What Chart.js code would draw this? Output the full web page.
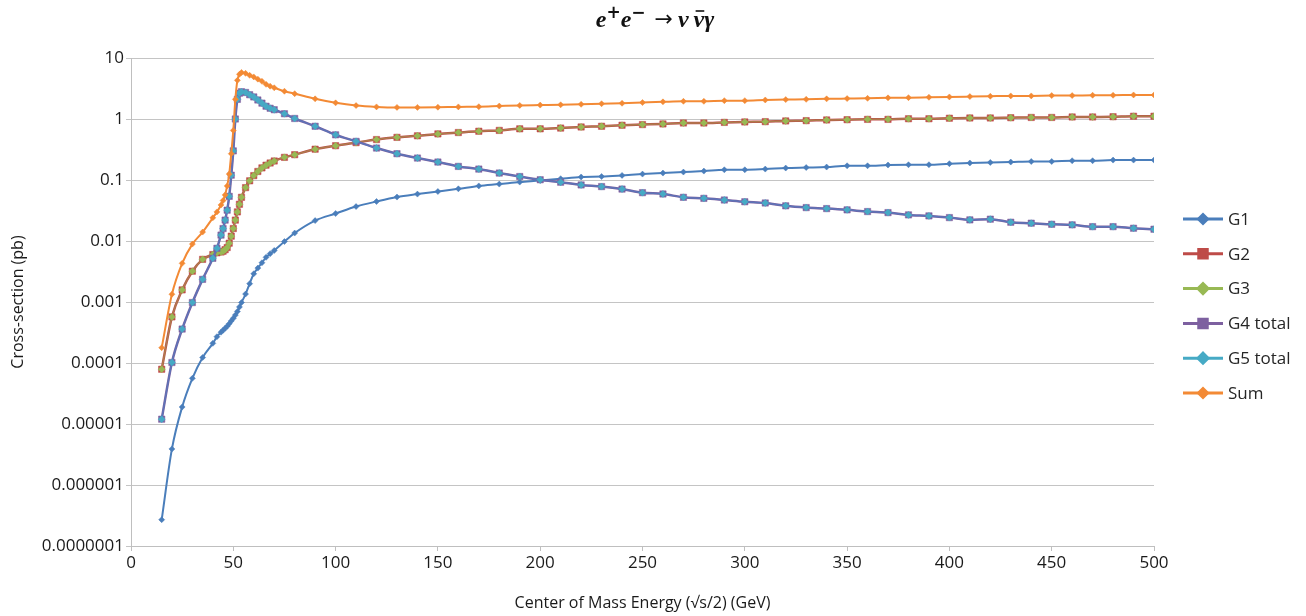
<!DOCTYPE html>
<html>
<head>
<meta charset="utf-8">
<script src="https://cdn.jsdelivr.net/npm/chart.js@4.4.1/dist/chart.umd.min.js"></script>
<style>
  html, body { margin: 0; padding: 0; background: #fff; }
  #wrap { width: 1306px; height: 616px; }
</style>
</head>
<body>
<div id="wrap"><canvas id="myChart" width="1306" height="616"></canvas></div>
<script>
// centre of mass energy (GeV)
const energy = [15, 20, 25, 30, 35, 40, 42, 44, 45, 46, 47, 48, 49, 50, 51, 52, 53, 54,
  56, 58, 60, 62, 64, 66, 68, 70, 75, 80,
  90, 100, 110, 120, 130, 140, 150, 160, 170, 180, 190, 200, 210, 220, 230, 240, 250,
  260, 270, 280, 290, 300, 310, 320, 330, 340, 350, 360, 370, 380, 390, 400,
  410, 420, 430, 440, 450, 460, 470, 480, 490, 500];

// cross-sections (pb)
const g1 = [2.7e-7, 3.9e-6, 1.9e-5, 5.6e-5, 1.23e-4, 2.1e-4, 2.7e-4, 3.2e-4, 3.45e-4, 3.7e-4, 4.0e-4, 4.4e-4, 4.9e-4, 5.4e-4, 6.1e-4, 7.0e-4, 8.3e-4, 9.8e-4,
  1.35e-3, 2.0e-3, 2.9e-3, 3.6e-3, 4.4e-3, 5.4e-3, 6.2e-3, 7.0e-3, 9.8e-3, 0.0135,
  0.0216, 0.0282, 0.0367, 0.0444, 0.0525, 0.0587, 0.0648, 0.0717, 0.080, 0.0857, 0.0924, 0.098, 0.105, 0.112, 0.114, 0.119, 0.125,
  0.130, 0.135, 0.140, 0.147, 0.147, 0.151, 0.157, 0.160, 0.163, 0.171, 0.171, 0.176, 0.178, 0.178, 0.185,
  0.190, 0.194, 0.197, 0.201, 0.201, 0.207, 0.207, 0.212, 0.212, 0.212];

const g2 = [7.9e-5, 5.7e-4, 1.58e-3, 3.2e-3, 5.0e-3, 6.0e-3, 6.4e-3, 6.6e-3, 6.8e-3, 7.2e-3, 7.8e-3, 9.2e-3, 0.012, 0.016, 0.022, 0.030, 0.040, 0.052,
  0.075, 0.097, 0.118, 0.138, 0.158, 0.175, 0.19, 0.205, 0.235, 0.26,
  0.32, 0.365, 0.41, 0.46, 0.50, 0.53, 0.57, 0.60, 0.63, 0.65, 0.69, 0.69, 0.71, 0.74, 0.76, 0.79, 0.81,
  0.83, 0.86, 0.86, 0.88, 0.895, 0.905, 0.93, 0.94, 0.965, 0.975, 0.986, 0.986, 1.01, 1.01, 1.03,
  1.04, 1.04, 1.05, 1.06, 1.06, 1.08, 1.08, 1.09, 1.11, 1.11];

const g3 = [7.9e-5, 5.7e-4, 1.58e-3, 3.2e-3, 5.0e-3, 6.0e-3, 6.4e-3, 6.6e-3, 6.8e-3, 7.2e-3, 7.8e-3, 9.2e-3, 0.012, 0.016, 0.022, 0.030, 0.040, 0.052,
  0.075, 0.097, 0.118, 0.138, 0.158, 0.175, 0.19, 0.205, 0.235, 0.26,
  0.32, 0.365, 0.41, 0.46, 0.50, 0.53, 0.57, 0.60, 0.63, 0.65, 0.69, 0.69, 0.71, 0.74, 0.76, 0.79, 0.81,
  0.83, 0.86, 0.86, 0.88, 0.895, 0.905, 0.93, 0.94, 0.965, 0.975, 0.986, 0.986, 1.01, 1.01, 1.03,
  1.04, 1.04, 1.05, 1.06, 1.06, 1.08, 1.08, 1.09, 1.11, 1.11];

const g4 = [1.2e-5, 1.02e-4, 3.6e-4, 9.8e-4, 2.35e-3, 5.2e-3, 7.6e-3, 0.0125, 0.016, 0.022, 0.032, 0.054, 0.12, 0.30, 1.0, 2.1, 2.65, 2.8,
  2.72, 2.5, 2.3, 2.05, 1.82, 1.62, 1.5, 1.42, 1.22, 1.02,
  0.76, 0.55, 0.43, 0.334, 0.27, 0.229, 0.197, 0.167, 0.151, 0.13, 0.114, 0.101, 0.092, 0.083, 0.078, 0.071, 0.062,
  0.059, 0.052, 0.050, 0.047, 0.044, 0.042, 0.0377, 0.0353, 0.034, 0.0324, 0.0304, 0.0292, 0.0268, 0.0258, 0.0242,
  0.0222, 0.0228, 0.0203, 0.0196, 0.0188, 0.0184, 0.0172, 0.0172, 0.0162, 0.0156];

const g5 = [1.2e-5, 1.02e-4, 3.6e-4, 9.8e-4, 2.35e-3, 5.2e-3, 7.6e-3, 0.0125, 0.016, 0.022, 0.032, 0.054, 0.12, 0.30, 1.0, 2.1, 2.65, 2.8,
  2.72, 2.5, 2.3, 2.05, 1.82, 1.62, 1.5, 1.42, 1.22, 1.02,
  0.76, 0.55, 0.43, 0.334, 0.27, 0.229, 0.197, 0.167, 0.151, 0.13, 0.114, 0.101, 0.092, 0.083, 0.078, 0.071, 0.062,
  0.059, 0.052, 0.050, 0.047, 0.044, 0.042, 0.0377, 0.0353, 0.034, 0.0324, 0.0304, 0.0292, 0.0268, 0.0258, 0.0242,
  0.0222, 0.0228, 0.0203, 0.0196, 0.0188, 0.0184, 0.0172, 0.0172, 0.0162, 0.0156];

const sum = [1.78e-4, 1.34e-3, 4.3e-3, 8.9e-3, 0.014, 0.024, 0.030, 0.039, 0.046, 0.057, 0.08, 0.125, 0.27, 0.65, 2.1, 4.3, 5.4, 5.8,
  5.6, 5.2, 4.9, 4.5, 4.15, 3.7, 3.45, 3.25, 2.85, 2.6,
  2.14, 1.84, 1.66, 1.58, 1.55, 1.55, 1.56, 1.58, 1.59, 1.63, 1.67, 1.69, 1.71, 1.74, 1.78, 1.81, 1.86,
  1.91, 1.95, 1.95, 2.0, 2.0, 2.05, 2.08, 2.10, 2.14, 2.16, 2.18, 2.22, 2.24, 2.27, 2.30,
  2.33, 2.36, 2.39, 2.39, 2.42, 2.42, 2.45, 2.45, 2.48, 2.48];

const seriesNames = ['G1', 'G2', 'G3', 'G4 total', 'G5 total', 'Sum'];
const yTickValues = [1e-7, 1e-6, 1e-5, 1e-4, 1e-3, 1e-2, 1e-1, 1, 10];
const yTickLabels = ['0.0000001', '0.000001', '0.00001', '0.0001', '0.001', '0.01', '0.1', '1', '10'];

const FONT = '"Open Sans", "Noto Sans", sans-serif';

function pts(vals) {
  return energy.map((e, i) => ({ x: e, y: vals[i] }));
}

function series(i, vals, color, lineColor, style, radius, width, order) {
  return {
    label: seriesNames[i],
    data: pts(vals),
    borderColor: lineColor,
    backgroundColor: color,
    pointBackgroundColor: color,
    pointBorderColor: color,
    pointBorderWidth: 0.5,
    pointStyle: style,
    pointRadius: radius,
    borderWidth: width,
    cubicInterpolationMode: 'monotone',
    order: order,
  };
}

// title with superscripts and a bar over the second nu
const titlePlugin = {
  id: 'mathTitle',
  afterDraw(chart) {
    const ctx = chart.ctx;
    const big = 'italic bold 24px "Liberation Serif", serif';
    const small = 'bold 17px "DejaVu Sans", sans-serif';
    const arrow = '22px "DejaVu Sans", sans-serif';
    // gap = extra space after the glyph, in px
    const parts = [
      { t: 'e', f: big, dy: 0, gap: 0 },
      { t: '+', f: small, dy: -9, gap: 0 },
      { t: 'e', f: big, dy: 0, gap: 0 },
      { t: '\u2212', f: small, dy: -9, gap: 9 },
      { t: '\u2192', f: arrow, dy: -1, gap: 5 },
      { t: '\u03BD', f: big, dy: 0, gap: 5 },
      { t: '\u03BD', f: big, dy: 0, gap: 0, bar: true },
      { t: '\u03B3', f: big, dy: 0, gap: 0 },
    ];
    ctx.save();
    let total = 0;
    parts.forEach(p => { ctx.font = p.f; p.w = ctx.measureText(p.t).width; total += p.w + p.gap; });
    let x = 655 - total / 2;
    const base = 27;
    ctx.fillStyle = '#111';
    ctx.strokeStyle = '#111';
    ctx.textBaseline = 'alphabetic';
    parts.forEach(p => {
      ctx.font = p.f;
      ctx.fillText(p.t, x, base + p.dy);
      if (p.bar) {
        ctx.lineWidth = 1.6;
        ctx.beginPath();
        ctx.moveTo(x + 2, base - 16);
        ctx.lineTo(x + p.w, base - 16);
        ctx.stroke();
      }
      x += p.w + p.gap;
    });
    ctx.restore();
  }
};

// legend on the right: line sample with marker
const legendPlugin = {
  id: 'sideLegend',
  afterDraw(chart) {
    const ctx = chart.ctx;
    chart.data.datasets.forEach((ds, i) => {
      const y = 219 + i * 34.8;
      ctx.save();
      ctx.strokeStyle = ds.backgroundColor;
      ctx.lineWidth = 3;
      ctx.beginPath();
      ctx.moveTo(1183, y);
      ctx.lineTo(1223, y);
      ctx.stroke();
      ctx.fillStyle = ds.pointBackgroundColor;
      ctx.strokeStyle = ds.pointBorderColor;
      Chart.helpers.drawPoint(ctx, {
        pointStyle: ds.pointStyle,
        radius: ds.pointRadius + 1.5,
        borderWidth: 1,
        rotation: 0,
      }, 1203, y);
      ctx.fillStyle = '#262626';
      ctx.font = '17px ' + FONT;
      ctx.textBaseline = 'middle';
      ctx.fillText(ds.label, 1228, y + 1);
      ctx.restore();
    });
  }
};

const ctx = document.getElementById('myChart');

const myChart = new Chart(ctx, {
  type: 'line',
  plugins: [titlePlugin, legendPlugin],
  data: {
    datasets: [
      series(0, g1, '#4A7EBB', '#4A7EBB', 'rectRot', 3, 2, 6),
      series(1, g2, '#BE4B48', '#BE4B48', 'rect', 4.5, 2.5, 5),
      series(2, g3, '#98B954', 'rgba(152,185,84,0.45)', 'rectRot', 3.5, 1.5, 4),
      series(3, g4, '#7D60A0', '#7D60A0', 'rect', 4.5, 2.5, 3),
      series(4, g5, '#46AAC5', 'rgba(70,130,200,0.6)', 'rectRot', 3.5, 1.5, 2),
      series(5, sum, '#F38A35', '#F38A35', 'rectRot', 3, 2, 1),
    ],
  },
  options: {
    responsive: false,
    animation: false,
    layout: {
      padding: { top: 58, right: 152, left: 0, bottom: 0 },
    },
    plugins: {
      legend: { display: false },
      tooltip: { enabled: false },
      title: { display: false },
    },
    scales: {
      x: {
        type: 'linear',
        min: 0,
        max: 500,
        afterFit(scale) { scale.height = 70; },
        ticks: {
          stepSize: 50,
          color: '#1a1a1a',
          padding: 2,
          maxRotation: 0,
          font: { family: FONT, size: 17 },
        },
        grid: {
          drawOnChartArea: false,
          drawTicks: true,
          tickLength: 5,
          color: '#BFBFBF',
        },
        border: { color: '#BFBFBF' },
        title: {
          display: true,
          text: 'Center of Mass Energy (\u221As/2) (GeV)',
          color: '#1a1a1a',
          font: { family: FONT, size: 16 },
          padding: { top: 0, bottom: 3 },
        },
      },
      y: {
        type: 'logarithmic',
        min: 1e-7,
        max: 10,
        afterFit(scale) { scale.width = 131; },
        afterBuildTicks(scale) {
          scale.ticks = yTickValues.map(v => ({ value: v }));
        },
        ticks: {
          color: '#1a1a1a',
          padding: 2,
          font: { family: FONT, size: 17 },
          callback: (v) => {
            const k = yTickValues.findIndex(t => Math.abs(t - v) / t < 1e-6);
            return k >= 0 ? yTickLabels[k] : '';
          },
        },
        grid: {
          color: '#C4C4C4',
          lineWidth: 1,
          tickLength: 5,
        },
        border: { color: '#BFBFBF' },
        title: {
          display: true,
          text: 'Cross-section (pb)',
          color: '#1a1a1a',
          font: { family: FONT, size: 16 },
          padding: { top: 9, bottom: 0 },
        },
      },
    },
  },
});
</script>
</body>
</html>
